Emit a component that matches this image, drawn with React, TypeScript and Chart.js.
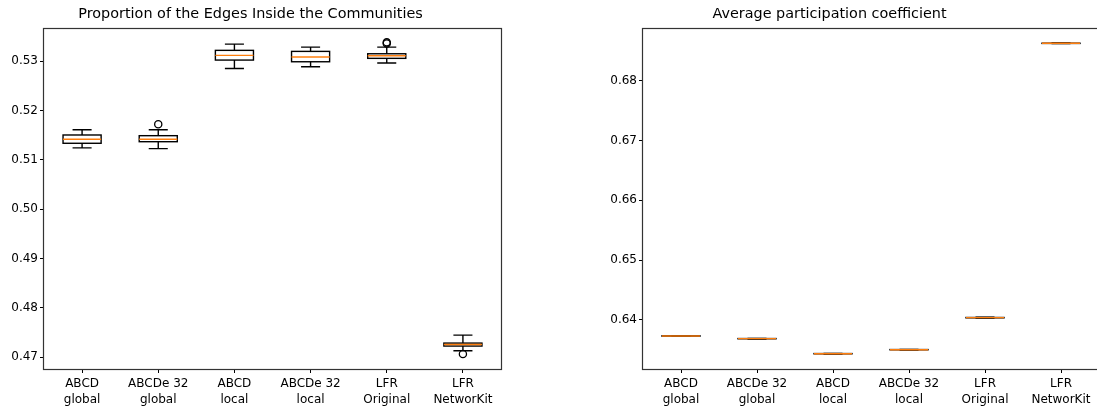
import React, { useEffect, useRef } from 'react';
import { Chart, registerables } from 'chart.js';

Chart.register(...registerables);

const categories: string[][] = [
  ['ABCD', 'global'],
  ['ABCDe 32', 'global'],
  ['ABCD', 'local'],
  ['ABCDe 32', 'local'],
  ['LFR', 'Original'],
  ['LFR', 'NetworKit'],
];

// Left panel: Proportion of the Edges Inside the Communities
const edgesTitle = 'Proportion of the Edges Inside the Communities';
const edgesLow = [0.5124, 0.51225, 0.5285, 0.52885, 0.5296, 0.4713];
const edgesQ1 = [0.51334, 0.51366, 0.5302, 0.52986, 0.53055, 0.47225];
const edgesMedian = [0.51415, 0.51415, 0.53115, 0.53081, 0.53107, 0.47257];
const edgesQ3 = [0.51502, 0.51488, 0.53217, 0.53196, 0.53148, 0.47285];
const edgesHigh = [0.51609, 0.51609, 0.53344, 0.53283, 0.53283, 0.47447];
const edgesOutliers: number[][] = [[], [0.51719], [], [], [0.53379, 0.53358], [0.47063]];
const edgesTicks = [0.47, 0.48, 0.49, 0.5, 0.51, 0.52, 0.53];
const edgesRange = [0.4676, 0.5367];

// Right panel: Average participation coefficient
const partTitle = 'Average participation coefficient';
const partLow = [0.63726, 0.63682, 0.63431, 0.63498, 0.64032, 0.68619];
const partQ1 = [0.63729, 0.63685, 0.63434, 0.63501, 0.64035, 0.68622];
const partMedian = [0.63732, 0.63687, 0.63436, 0.63503, 0.64038, 0.68624];
const partQ3 = [0.63735, 0.63689, 0.63438, 0.63505, 0.64041, 0.68626];
const partHigh = [0.63738, 0.63692, 0.63441, 0.63508, 0.64044, 0.68629];
const partOutliers: number[][] = [[], [], [], [], [], []];
const partTicks = [0.64, 0.65, 0.66, 0.67, 0.68];
const partRange = [0.6318, 0.6888];

const FONT = 'DejaVu Sans';
const LW = 1.4;

type Props = {
  title: string;
  low: number[];
  q1: number[];
  median: number[];
  q3: number[];
  high: number[];
  outliers: number[][];
  ticks: number[];
  range: number[];
  axisWidth: number;
  padRight: number;
  width: number;
  left: number;
};

function BoxChart(p: Props) {
  const ref = useRef<HTMLCanvasElement | null>(null);
  useEffect(() => {
    if (!ref.current) return;
    const boxPlugin = {
      id: 'boxWhiskers',
      afterDatasetsDraw(chart: any) {
        const { ctx, scales } = chart;
        const y = scales.y;
        const meta = chart.getDatasetMeta(0);
        ctx.save();
        p.median.forEach((m, i) => {
          const bar: any = meta.data[i];
          if (!bar) return;
          const cx = bar.x;
          const hw = bar.width / 2;
          const yLow = y.getPixelForValue(p.low[i]);
          const yQ1 = y.getPixelForValue(p.q1[i]);
          const yQ3 = y.getPixelForValue(p.q3[i]);
          const yHigh = y.getPixelForValue(p.high[i]);
          const yMed = y.getPixelForValue(m);
          ctx.strokeStyle = '#000';
          ctx.lineWidth = LW;
          ctx.beginPath();
          ctx.moveTo(cx, yQ1);
          ctx.lineTo(cx, yLow);
          ctx.moveTo(cx, yQ3);
          ctx.lineTo(cx, yHigh);
          ctx.moveTo(cx - hw / 2, yLow);
          ctx.lineTo(cx + hw / 2, yLow);
          ctx.moveTo(cx - hw / 2, yHigh);
          ctx.lineTo(cx + hw / 2, yHigh);
          ctx.stroke();
          ctx.strokeRect(cx - hw, yQ3, 2 * hw, yQ1 - yQ3);
          ctx.strokeStyle = '#ff7f0e';
          ctx.lineWidth = LW;
          ctx.beginPath();
          ctx.moveTo(cx - hw, yMed);
          ctx.lineTo(cx + hw, yMed);
          ctx.stroke();
        });
        ctx.restore();
      },
      afterDraw(chart: any) {
        const { ctx, chartArea } = chart;
        ctx.save();
        ctx.strokeStyle = '#333';
        ctx.lineWidth = 1.2;
        const l = Math.round(chartArea.left) - 0.5;
        const t = Math.round(chartArea.top) + 0.5;
        const r = Math.round(chartArea.right) + 0.5;
        const b = Math.round(chartArea.bottom) + 0.5;
        ctx.strokeRect(l, t, r - l, b - t);
        ctx.restore();
      },
    };

    const outlierPoints: { x: string[]; y: number }[] = [];
    p.outliers.forEach((arr, i) => arr.forEach((v) => outlierPoints.push({ x: categories[i], y: v })));

    const chart = new Chart(ref.current, {
      type: 'bar',
      data: {
        labels: categories,
        datasets: [
          {
            type: 'bar',
            data: p.q1.map((v, i) => [v, p.q3[i]]),
            backgroundColor: '#ffffff',
            borderColor: 'rgba(0,0,0,0)',
            borderWidth: 0,
            borderSkipped: false,
            barPercentage: 0.5,
            categoryPercentage: 1,
          } as any,
          {
            type: 'scatter',
            data: outlierPoints,
            pointStyle: 'circle',
            pointRadius: 3.6,
            pointBorderColor: '#000000',
            pointBackgroundColor: 'rgba(0,0,0,0)',
            pointBorderWidth: 1.3,
          } as any,
        ],
      },
      options: {
        responsive: false,
        animation: false,
        devicePixelRatio: 1,
        layout: { padding: { left: 0, right: p.padRight, top: 0, bottom: 0 } },
        plugins: {
          legend: { display: false },
          tooltip: { enabled: false },
          title: {
            display: true,
            text: p.title,
            color: '#000',
            font: { family: FONT, size: 14.4, weight: 'normal' },
            padding: { top: 6, bottom: 4.72 },
          },
        },
        scales: {
          x: {
            type: 'category',
            offset: true,
            grid: {
              display: true,
              offset: false,
              drawOnChartArea: false,
              drawTicks: true,
              tickLength: 4,
              color: '#000',
            },
            border: { display: false },
            ticks: {
              color: '#000',
              font: { family: FONT, size: 12, lineHeight: 1.3 },
              padding: 3,
              maxRotation: 0,
              autoSkip: false,
            },
            afterFit: (s: any) => {
              s.height = 40;
            },
          },
          y: {
            type: 'linear',
            min: p.range[0],
            max: p.range[1],
            grid: {
              display: true,
              drawOnChartArea: false,
              drawTicks: true,
              tickLength: 4,
              color: '#000',
            },
            border: { display: false },
            afterBuildTicks: (s: any) => {
              s.ticks = p.ticks.map((v) => ({ value: v }));
            },
            ticks: {
              color: '#000',
              font: { family: FONT, size: 12 },
              padding: 2,
              callback: (v: any) => Number(v).toFixed(2),
            },
            afterFit: (s: any) => {
              s.width = p.axisWidth;
            },
          },
        },
      } as any,
      plugins: [boxPlugin],
    });
    return () => chart.destroy();
  }, []);
  return (
    <canvas
      ref={ref}
      width={p.width}
      height={409}
      style={{ position: 'absolute', left: p.left, top: 0, width: p.width, height: 409 }}
    />
  );
}

export default function App() {
  return (
    <div
      style={{
        position: 'fixed',
        left: 0,
        top: 0,
        width: 1097,
        height: 409,
        overflow: 'hidden',
        background: '#fff',
      }}
    >
      <BoxChart
        title={edgesTitle}
        low={edgesLow}
        q1={edgesQ1}
        median={edgesMedian}
        q3={edgesQ3}
        high={edgesHigh}
        outliers={edgesOutliers}
        ticks={edgesTicks}
        range={edgesRange}
        axisWidth={44}
        padRight={47}
        width={548}
        left={0}
      />
      <BoxChart
        title={partTitle}
        low={partLow}
        q1={partQ1}
        median={partMedian}
        q3={partQ3}
        high={partHigh}
        outliers={partOutliers}
        ticks={partTicks}
        range={partRange}
        axisWidth={83}
        padRight={21}
        width={560}
        left={560}
      />
    </div>
  );
}
